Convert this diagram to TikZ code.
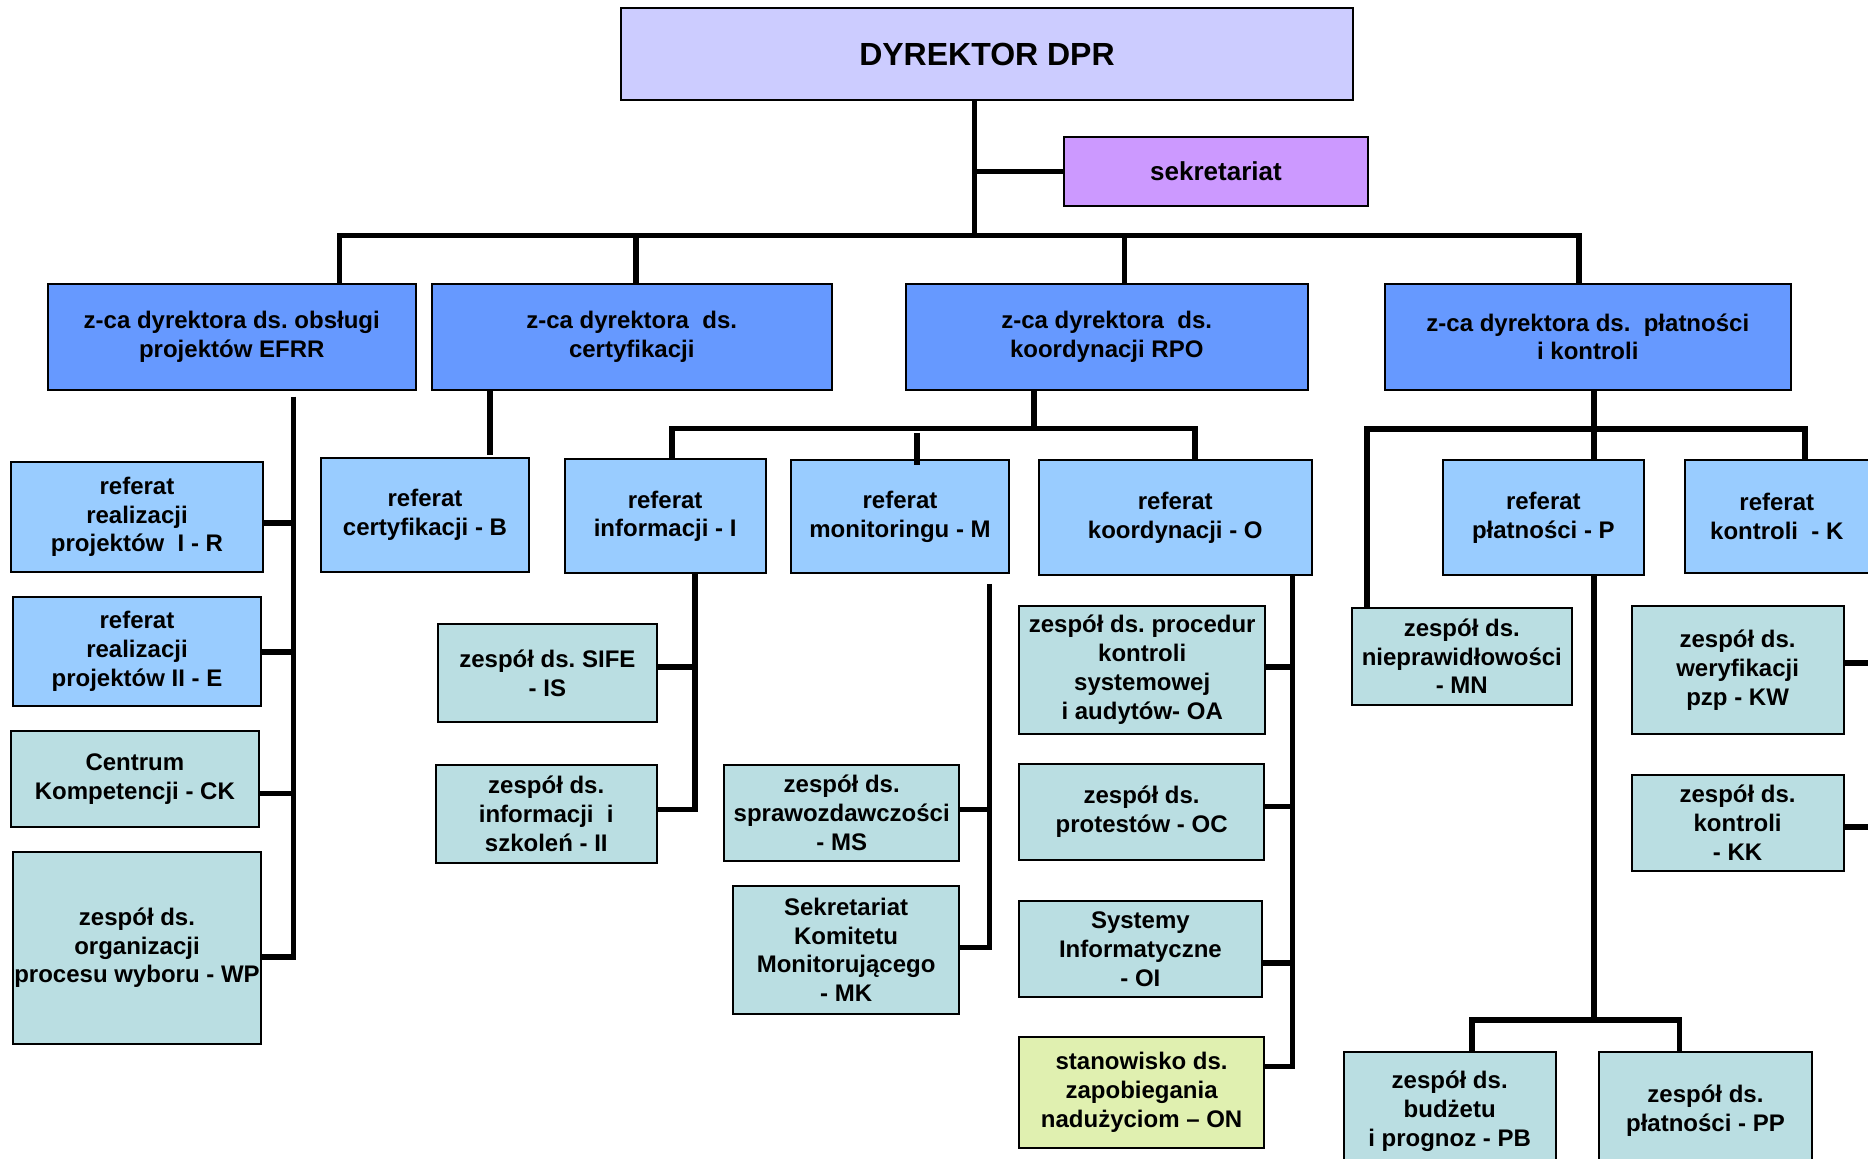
\documentclass[tikz,border=0pt]{standalone}
\usepackage{fontspec}
\setmainfont{Liberation Sans}
\usepackage{tikz}
\frenchspacing

\definecolor{dirc}{RGB}{204,204,255}
\definecolor{sekc}{RGB}{204,153,255}
\definecolor{depc}{RGB}{102,153,255}
\definecolor{refc}{RGB}{153,204,255}
\definecolor{zesc}{RGB}{186,222,226}
\definecolor{stnc}{RGB}{224,240,176}

\begin{document}
\begin{tikzpicture}[x=0.5pt, y=-0.5pt,
	unit/.style={draw=black, line width=1pt, align=center, inner sep=0pt,
		font=\bfseries\fontsize{12}{14.4}\selectfont},
	dirbox/.style={unit, fill=dirc, font=\bfseries\fontsize{16}{19}\selectfont},
	sekbox/.style={unit, fill=sekc, font=\bfseries\fontsize{13}{15.6}\selectfont},
	depbox/.style={unit, fill=depc, minimum height=53pt},
	refbox/.style={unit, fill=refc},
	zesbox/.style={unit, fill=zesc},
	stnbox/.style={unit, fill=stnc},
	link/.style={line width=2.75pt, line join=miter}]
	\useasboundingbox (0,0) rectangle (1868,1159);
	\clip (0,0) rectangle (1868,1159);

	\node[dirbox, minimum width=366pt, minimum height=45.75pt] (dir) at (987,54.25) {DYREKTOR DPR};
	\node[sekbox, minimum width=151.75pt, minimum height=34.35pt] (sek) at (1216,171.4) {sekretariat};

	\node[depbox, minimum width=184pt] (d1) at (231.75,336.9) {z-ca dyrektora ds. obsługi\\projektów EFRR};
	\node[depbox, minimum width=199.85pt] (d2) at (631.75,336.9) {z-ca dyrektora~ ds.\\certyfikacji};
	\node[depbox, minimum width=200.75pt] (d3) at (1106.75,336.9) {z-ca dyrektora~ ds.\\koordynacji RPO};
	\node[depbox, minimum width=202.8pt] (d4) at (1587.8,336.9) {z-ca dyrektora ds.~ płatności\\i kontroli};

	\node[refbox, minimum width=125.7pt, minimum height=54.8pt] (r) at (137,516.8) {referat\\realizacji\\projektów~ I - R};
	\node[refbox, minimum width=124pt, minimum height=54.85pt] (e) at (137,651.5) {referat\\realizacji\\projektów II - E};
	\node[zesbox, minimum width=123.6pt, minimum height=48.35pt] (ck) at (134.9,779) {Centrum\\Kompetencji - CK};
	\node[zesbox, minimum width=124pt, minimum height=96pt] (wp) at (137,947.8) {zespół ds.\\organizacji\\procesu wyboru - WP};

	\node[refbox, minimum width=104pt, minimum height=57pt] (b) at (425,515) {referat\\certyfikacji - B};
	\node[refbox, minimum width=100.4pt, minimum height=57.25pt] (i) at (665.1,516.25) {referat\\informacji - I};
	\node[refbox, minimum width=109pt, minimum height=56.75pt] (m) at (900,516.75) {referat\\monitoringu - M};
	\node[refbox, minimum width=136.45pt, minimum height=57.5pt] (o) at (1175.25,517.5) {referat\\koordynacji - O};
	\node[refbox, minimum width=100.65pt, minimum height=57.5pt] (p) at (1543.35,517.5) {referat\\płatności - P};
	\node[refbox, minimum width=92.2pt, minimum height=56.5pt] (k) at (1776.8,516.5) {referat\\kontroli~ - K};

	\node[zesbox, minimum width=109.6pt, minimum height=48.95pt] (is) at (547.4,673.25) {zespół ds. SIFE\\- IS};
	\node[zesbox, minimum width=110.75pt, minimum height=48.9pt] (ii) at (546.25,813.6) {zespół ds.\\informacji~ i\\szkoleń - II};
	\node[zesbox, minimum width=117.3pt, minimum height=48pt] (ms) at (841.7,812.7) {zespół ds.\\sprawozdawczości\\- MS};
	\node[zesbox, minimum width=112.85pt, minimum height=64.1pt] (mk) at (846.15,949.9) {Sekretariat\\Komitetu\\Monitorującego\\- MK};

	\node[zesbox, minimum width=123pt, minimum height=63.85pt] (oa) at (1142.2,669.75) {zespół ds. procedur\\kontroli\\systemowej\\i audytów- OA};
	\node[zesbox, minimum width=122.4pt, minimum height=48.05pt] (oc) at (1141.6,811.95) {zespół ds.\\protestów - OC};
	\node[zesbox, minimum width=121.2pt, minimum height=48.2pt] (oi) at (1140.4,949.1) {Systemy\\Informatyczne\\- OI};
	\node[stnbox, minimum width=122.4pt, minimum height=55.85pt] (on) at (1141.6,1092.55) {stanowisko ds.\\zapobiegania\\nadużyciom – ON};

	\node[zesbox, minimum width=110.2pt, minimum height=48.4pt] (mn) at (1461.8,656.4) {zespół ds.\\nieprawidłowości\\- MN};
	\node[zesbox, minimum width=106pt, minimum height=64.1pt] (kw) at (1737.6,670.3) {zespół ds.\\weryfikacji\\pzp - KW};
	\node[zesbox, minimum width=106pt, minimum height=48.2pt] (kk) at (1737.6,822.8) {zespół ds.\\kontroli\\- KK};
	\node[zesbox, minimum width=105.85pt, minimum height=59pt] (pb) at (1449.65,1111) {zespół ds.\\budżetu\\i prognoz - PB};
	\node[zesbox, minimum width=106.05pt, minimum height=59pt] (pp) at (1705.45,1111) {zespół ds.\\płatności - PP};

	\coordinate (b0) at (974.5,235.3);
	\coordinate (b1) at (339.5,235.3);
	\coordinate (b2) at (636,235.3);
	\coordinate (b3) at (1124.6,235.3);
	\coordinate (b4) at (1579,235.3);
	\draw[link] (dir.south -| b0) -- (b0);
	\draw[link] (sek.west) -- (sek.west -| b0);
	\draw[link] (d1.north -| b1) -- (b1) -- (b4) -- (d4.north -| b4);
	\draw[link] (d2.north -| b2) -- (b2);
	\draw[link] (d3.north -| b3) -- (b3);

	\coordinate (t1) at (293.7,396.6);
	\coordinate (jr) at (293.7,522.8);
	\coordinate (je) at (293.7,652);
	\coordinate (jck) at (293.7,793.5);
	\coordinate (jwp) at (293.7,957);
	\draw[link] (t1) -- (jwp) -- (wp.east |- jwp);
	\draw[link] (r.east |- jr) -- (jr);
	\draw[link] (e.east |- je) -- (je);
	\draw[link] (ck.east |- jck) -- (jck);

	\coordinate (tb) at (490,455);
	\draw[link] (d2.south -| tb) -- (tb);

	\coordinate (c0) at (1034,428.5);
	\coordinate (c1) at (672,428.5);
	\coordinate (c2) at (916.8,433);
	\coordinate (c3) at (1195,428.5);
	\draw[link] (d3.south -| c0) -- (c0);
	\draw[link] (i.north -| c1) -- (c1) -- (c3) -- (o.north -| c3);
	\draw[link] (c2) -- ([yshift=-3pt]m.north -| c2);

	\coordinate (jis) at (695.2,667);
	\coordinate (jii) at (695.2,809.7);
	\draw[link] (i.south -| jis) -- (jii) -- (ii.east |- jii);
	\draw[link] (is.east |- jis) -- (jis);

	\coordinate (tm) at (989.4,584);
	\coordinate (jms) at (989.4,809.7);
	\coordinate (jmk) at (989.4,947.5);
	\draw[link] (tm) -- (jmk) -- (mk.east |- jmk);
	\draw[link] (ms.east |- jms) -- (jms);

	\coordinate (joa) at (1292.6,667);
	\coordinate (joc) at (1292.6,806.7);
	\coordinate (joi) at (1292.6,963);
	\coordinate (jon) at (1292.6,1066.7);
	\draw[link] (o.south -| joa) -- (jon) -- (on.east |- jon);
	\draw[link] (oa.east |- joa) -- (joa);
	\draw[link] (oc.east |- joc) -- (joc);
	\draw[link] (oi.east |- joi) -- (joi);

	\coordinate (d0) at (1594,429);
	\coordinate (d5) at (1367,429);
	\coordinate (d6) at (1805,429);
	\draw[link] (d4.south -| d0) -- (p.north -| d0);
	\draw[link] (mn.north -| d5) -- (d5) -- (d6) -- (k.north -| d6);

	\coordinate (e0) at (1594,1020);
	\coordinate (e1) at (1472,1020);
	\coordinate (e2) at (1679.4,1020);
	\draw[link] (p.south -| e0) -- (e0);
	\draw[link] (pb.north -| e1) -- (e1) -- (e2) -- (pp.north -| e2);

	\coordinate (kw0) at (1870,663);
	\coordinate (kk0) at (1870,827);
	\draw[link] (kw.east |- kw0) -- (kw0);
	\draw[link] (kk.east |- kk0) -- (kk0);
\end{tikzpicture}
\end{document}
